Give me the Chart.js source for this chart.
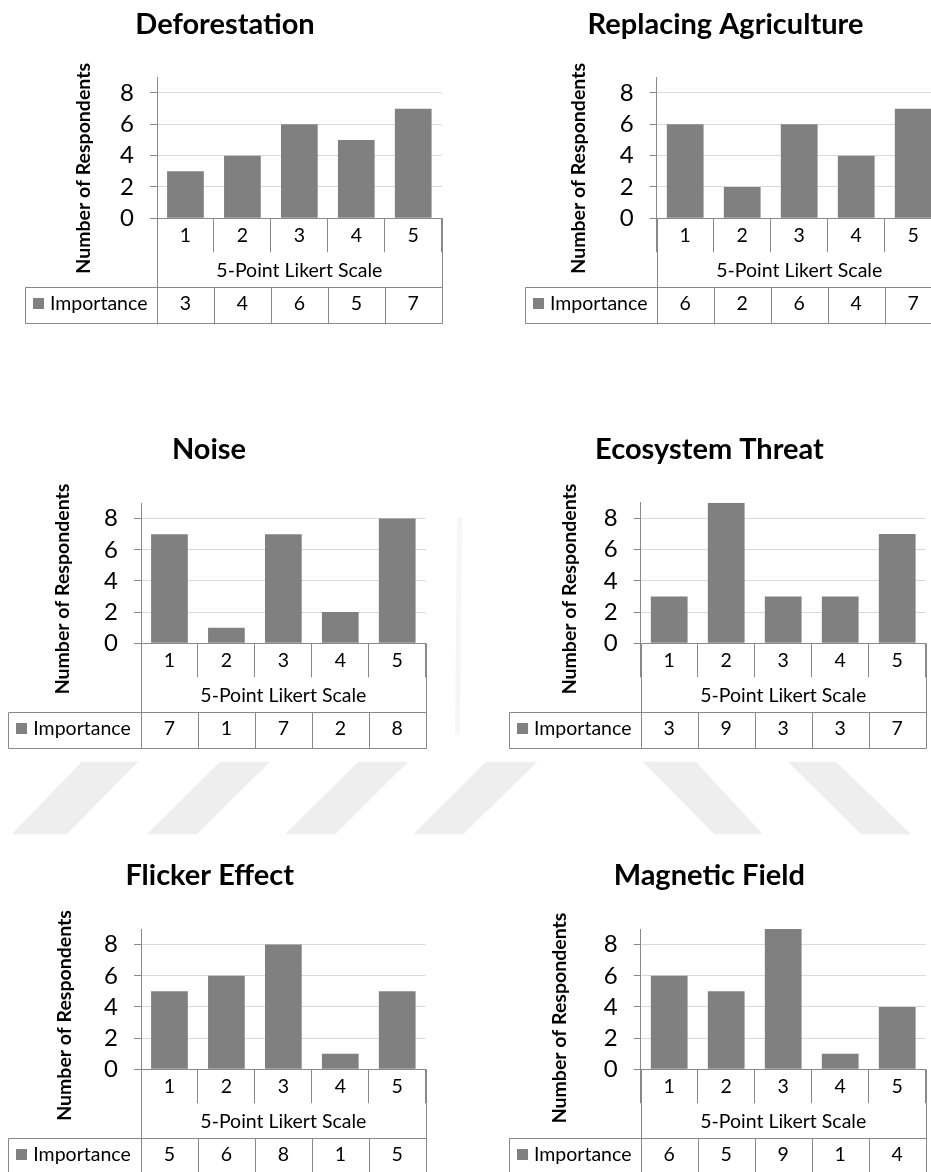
<!DOCTYPE html>
<html>
<head>
<meta charset="utf-8">
<title>Importance ratings – 5-point Likert scale</title>
<script src="https://cdn.jsdelivr.net/npm/chart.js@4.4.1/dist/chart.umd.min.js"></script>
<style>
  html, body { margin: 0; padding: 0; background: #fff; }
  body { position: relative; width: 931px; height: 1172px; overflow: hidden; }
  canvas { position: absolute; }
</style>
</head>
<body>
<canvas id="backdrop" width="931" height="1172" style="left:0;top:0;width:931px;height:1172px"></canvas>
<script>
// ---- data ----
const categories = ['1', '2', '3', '4', '5'];
const yTickValues = [0, 2, 4, 6, 8];
const seriesName = 'Importance';
const yAxisTitle = 'Number of Respondents';
const xAxisTitle = '5-Point Likert Scale';

const chartTitles = ['Deforestation', 'Replacing Agriculture', 'Noise',
                     'Ecosystem Threat', 'Flicker Effect', 'Magnetic Field'];

const deforestation        = [3, 4, 6, 5, 7];
const replacingAgriculture = [6, 2, 6, 4, 7];
const noise                = [7, 1, 7, 2, 8];
const ecosystemThreat      = [3, 9, 3, 3, 7];
const flickerEffect        = [5, 6, 8, 1, 5];
const magneticField        = [6, 5, 9, 1, 4];

const seriesByChart = [deforestation, replacingAgriculture, noise,
                       ecosystemThreat, flickerEffect, magneticField];

// ---- page layout (page pixels) ----
// box: canvas [left, top, width, height]; axisX / right: plot edges;
// top / zero: pixel rows of the axis maximum and of zero.
const panelLayout = [
  { box: [0,   0,   466, 345], axisX: 157,   right: 441.7, top: 77.3,  zero: 218.3,  legendLeft: 25,  titleX: 225,   ylabX: 83.3,  ylabY: 168.3 },
  { box: [466, 0,   480, 345], axisX: 656.7, right: 941.7, top: 77.3,  zero: 218.3,  legendLeft: 525, titleX: 725.5, ylabX: 578.3, ylabY: 168.3 },
  { box: [0,   420, 466, 345], axisX: 141,   right: 425.7, top: 503,   zero: 643.3,  legendLeft: 8.3, titleX: 209,   ylabX: 62.5,  ylabY: 589 },
  { box: [466, 420, 465, 345], axisX: 640.7, right: 925.7, top: 502.7, zero: 643.3,  legendLeft: 509, titleX: 709.5, ylabX: 569.5, ylabY: 589 },
  { box: [0,   850, 466, 322], axisX: 141,   right: 425.7, top: 929,   zero: 1069.3, legendLeft: 8.3, titleX: 209.7, ylabX: 65,    ylabY: 1015.5 },
  { box: [466, 850, 465, 322], axisX: 640.7, right: 925.7, top: 929,   zero: 1069.3, legendLeft: 509, titleX: 709.3, ylabX: 560,   ylabY: 1018 }
];

const FONT = 'Lato, "Open Sans", "DejaVu Sans", sans-serif';
const BAR = '#808080';
const AXIS = '#898989';
const GRID = '#d9d9d9';
const LABEL_SIZE = 19.5;

// ---- faint backdrop stripes ----
(function drawBackdrop() {
  const ctx = document.getElementById('backdrop').getContext('2d');
  ctx.fillStyle = '#eeeeee';
  const yTop = 761.7, yBot = 834.3;
  const stripes = [
    [81.7, 138.3, 11.7, 66.7],
    [220, 270, 146.7, 196.7],
    [358.3, 408.3, 285, 335],
    [486, 537.7, 413.3, 463],
    [642.7, 696, 714.3, 762.7],
    [787.7, 836, 861, 911]
  ];
  stripes.forEach(([a, b, c, d]) => {
    ctx.beginPath();
    ctx.moveTo(a, yTop); ctx.lineTo(b, yTop); ctx.lineTo(d, yBot); ctx.lineTo(c, yBot);
    ctx.closePath(); ctx.fill();
  });
  ctx.fillStyle = '#f6f6f6';
  ctx.beginPath();
  ctx.moveTo(457, 517); ctx.lineTo(462, 517); ctx.lineTo(460, 735); ctx.lineTo(455, 735);
  ctx.closePath(); ctx.fill();
})();

// ---- title, axis titles and data table under the category axis ----
const likertTable = {
  id: 'likertTable',
  afterDraw(chart, args, opts) {
    const ctx = chart.ctx;
    const xs = chart.scales.x;
    const ys = chart.scales.y;
    const values = chart.data.datasets[0].data;
    const n = chart.data.labels.length;
    const zeroY = ys.getPixelForValue(0);
    const left = chart.chartArea.left;
    const right = chart.chartArea.right;
    const step = xs.getPixelForValue(1) - xs.getPixelForValue(0);
    const bounds = [];
    for (let i = 0; i <= n; i++) bounds.push(xs.getPixelForValue(0) - step / 2 + i * step);
    const legendLeft = opts.legendLeft;
    const tTop = zeroY + 69;
    const tBot = zeroY + 104.5;
    const px = v => Math.round(v) + 0.5;

    ctx.save();
    ctx.strokeStyle = AXIS;
    ctx.lineWidth = 1;
    ctx.beginPath();
    // plot-side borders continued down through the table
    ctx.moveTo(px(left), zeroY); ctx.lineTo(px(left), px(tBot));
    ctx.moveTo(px(right), zeroY); ctx.lineTo(px(right), px(tBot));
    // table row
    ctx.moveTo(px(legendLeft), px(tTop)); ctx.lineTo(px(right), px(tTop));
    ctx.moveTo(px(legendLeft), px(tBot)); ctx.lineTo(px(right), px(tBot));
    ctx.moveTo(px(legendLeft), px(tTop)); ctx.lineTo(px(legendLeft), px(tBot));
    for (let i = 1; i < n; i++) {
      ctx.moveTo(px(bounds[i]), px(tTop)); ctx.lineTo(px(bounds[i]), px(tBot));
    }
    ctx.stroke();

    // legend key + series name
    const rowBase = zeroY + 92;
    ctx.fillStyle = BAR;
    ctx.fillRect(Math.round(legendLeft + 8), Math.round(rowBase - 12.5), 11, 11);
    ctx.fillStyle = '#000';
    ctx.font = `${LABEL_SIZE}px ${FONT}`;
    ctx.textBaseline = 'alphabetic';
    ctx.textAlign = 'left';
    ctx.fillText(chart.data.datasets[0].label, legendLeft + 25, rowBase);

    // values row
    ctx.textAlign = 'center';
    values.forEach((v, i) => ctx.fillText(String(v), xs.getPixelForValue(i), rowBase));

    // category axis title
    ctx.fillText(opts.xTitle, (left + right) / 2, zeroY + 58.5);

    // chart title
    ctx.font = `bold 29px ${FONT}`;
    ctx.fillText(opts.title, opts.titleX, zeroY - 184.5);

    // value axis title
    ctx.translate(opts.ylabX, opts.ylabY);
    ctx.rotate(-Math.PI / 2);
    ctx.font = `bold 19.5px ${FONT}`;
    ctx.textBaseline = 'middle';
    ctx.fillText(opts.yTitle, 0, 0);
    ctx.restore();
  }
};

function buildChart(index) {
  const L = panelLayout[index];
  const [cx, cy, cw, ch] = L.box;
  const canvas = document.createElement('canvas');
  canvas.width = cw;
  canvas.height = ch;
  canvas.style.left = cx + 'px';
  canvas.style.top = cy + 'px';
  canvas.style.width = cw + 'px';
  canvas.style.height = ch + 'px';
  document.body.appendChild(canvas);

  return new Chart(canvas, {
    type: 'bar',
    data: {
      labels: categories,
      datasets: [{
        label: seriesName,
        data: seriesByChart[index],
        backgroundColor: BAR,
        borderWidth: 0,
        categoryPercentage: 1,
        barPercentage: 0.645
      }]
    },
    options: {
      responsive: false,
      animation: false,
      devicePixelRatio: 1,
      layout: { padding: { left: 0, top: L.top - cy, right: cw - (L.right - cx), bottom: 0 } },
      plugins: {
        legend: { display: false },
        tooltip: { enabled: false },
        title: { display: false },
        likertTable: {
          legendLeft: L.legendLeft - cx,
          title: chartTitles[index],
          titleX: L.titleX - cx,
          xTitle: xAxisTitle,
          yTitle: yAxisTitle,
          ylabX: L.ylabX - cx,
          ylabY: L.ylabY - cy
        }
      },
      scales: {
        x: {
          type: 'category',
          offset: true,
          grid: { offset: true, drawOnChartArea: false, drawTicks: true, tickLength: 34, color: AXIS, lineWidth: 1 },
          border: { display: true, color: AXIS, width: 1 },
          ticks: { font: { family: FONT, size: LABEL_SIZE }, color: '#000', padding: -28, maxRotation: 0, autoSkip: false },
          afterFit(s) { s.height = ch - (L.zero - cy); }
        },
        y: {
          min: 0,
          max: 9,
          afterBuildTicks(s) { s.ticks = yTickValues.map(v => ({ value: v })); },
          grid: { color: GRID, tickColor: AXIS, tickLength: 7, lineWidth: 1 },
          border: { display: true, color: AXIS, width: 1 },
          ticks: { font: { family: FONT, size: 24 }, color: '#000', padding: 16 },
          afterFit(s) { s.width = L.axisX - cx; }
        }
      }
    },
    plugins: [likertTable]
  });
}

chartTitles.forEach((_, i) => buildChart(i));
</script>
</body>
</html>
